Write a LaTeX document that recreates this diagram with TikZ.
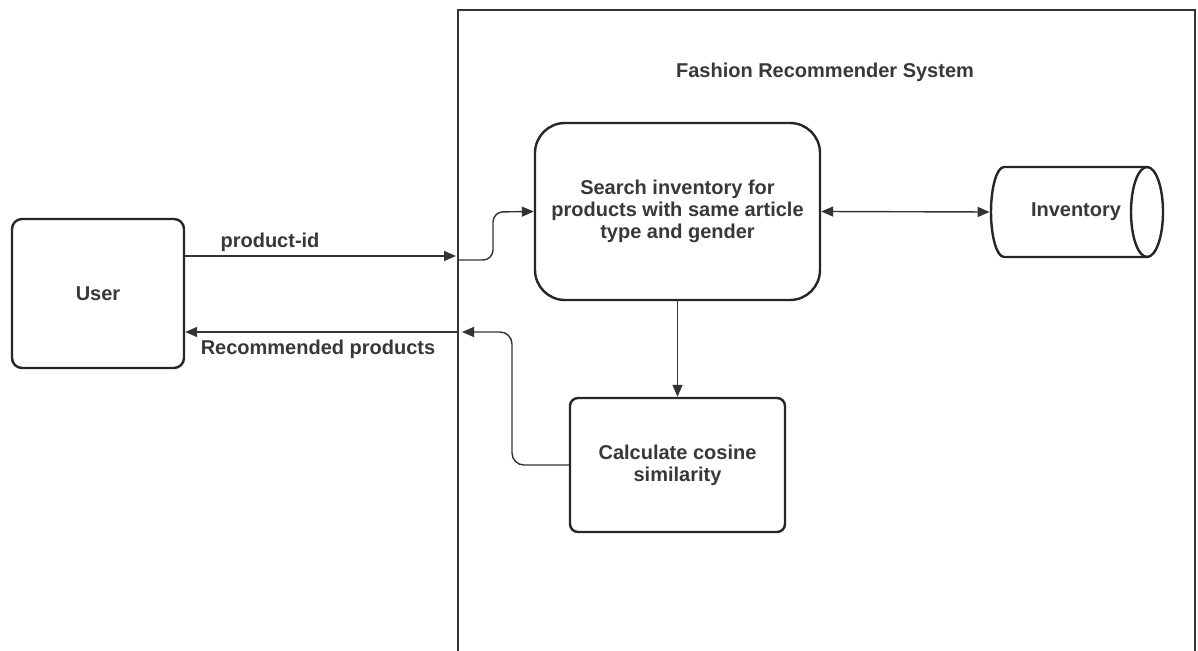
\documentclass[tikz,border=0pt]{standalone}
\usepackage{fontspec}
\setmainfont{Liberation Sans}
\usetikzlibrary{shapes.geometric,arrows.meta}
\begin{document}
\begin{tikzpicture}[x=0.5pt,y=-0.5pt,
  txt/.style={font=\bfseries\fontsize{10}{11}\selectfont, text=black!78},
  box/.style={txt, draw=black!85, line width=1.2pt, align=center, inner sep=0pt},
  shapeline/.style={draw=black!85, line width=1.2pt},
  tip/.style={},
  conn/.style={draw=black!80, line width=0.7pt, -{Triangle[length=6pt,width=5pt]}},
  frame/.style={draw=black!80, line width=0.7pt}]
\useasboundingbox (0,0) rectangle (1198,651);
\fill[white] (0,0) rectangle (1198,651);
% system frame
\draw[frame] (458,655) -- (458,10) -- (1195,10) -- (1195,655);
\node[txt] (title) at (825,72) {Fashion Recommender System};
% nodes
\node[box, rounded corners=5pt, minimum width=86pt, minimum height=74.5pt] (user) at (98,293.5) {User};
\node[box, rounded corners=15pt, minimum width=142.5pt, minimum height=88.5pt] (search) at (677.5,211.5) {Search inventory for\\products with same article\\type and gender};
\node[box, rounded corners=4pt, minimum width=107.5pt, minimum height=67pt] (calc) at (677.5,465) {Calculate cosine\\similarity};
% inventory cylinder (horizontal)
\node[txt, minimum width=86pt, minimum height=45pt, inner sep=0pt] (inv) at (1076,212) {Inventory};
\draw[shapeline] (1004,167) arc[start angle=90, end angle=270, x radius=6.5pt, y radius=22.5pt]
  -- (1147,257) arc[start angle=270, end angle=450, x radius=8pt, y radius=22.5pt] -- cycle;
\draw[shapeline] (1147,167) arc[start angle=90, end angle=270, x radius=8pt, y radius=22.5pt];
% coordinates on the frame
\coordinate (pin) at (456,256);
\coordinate (pin2) at (458,260);
\coordinate (pout) at (462,332);
\coordinate (pret) at (458,332);
% connectors
\draw[conn] (user.east |- pin) -- (pin);
\node[txt] (lpid) at (270,242) {product-id};
\draw[conn, rounded corners=5pt] (pin2) -- (493,260) -- (493,212) -- (search.west);
\draw[draw=black!80, line width=0.7pt, {Triangle[length=6pt,width=5pt]}-{Triangle[length=6pt,width=5pt]}] (search.east) -- (inv.west);
\draw[conn] (search.south) -- (calc.north);
\draw[conn, rounded corners=6pt] (calc.west) -- (512,465) -- (512,332) -- (pout);
\draw[conn] (pret) -- (user.east |- pret);
\node[txt] (lrec) at (318,349) {Recommended products};
\end{tikzpicture}
\end{document}
